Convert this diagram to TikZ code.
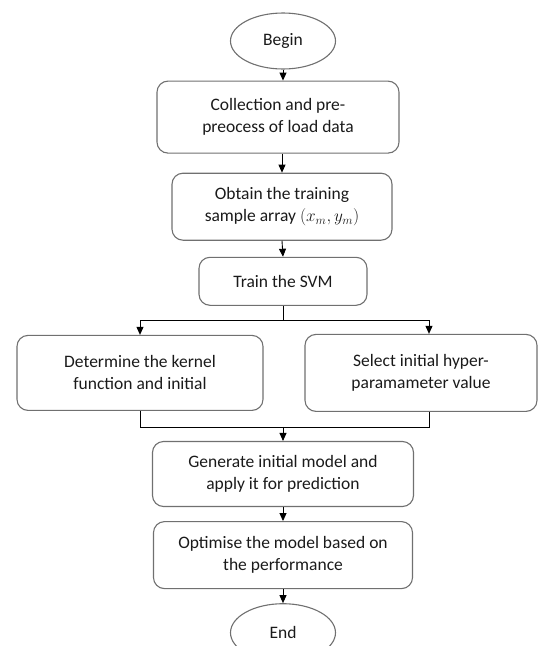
\documentclass[tikz,border=0pt]{standalone}
\usepackage{fontspec}
\setmainfont{Carlito}
\usepackage{tikz}
\usetikzlibrary{arrows.meta,positioning,shapes.geometric,calc}
\definecolor{cEdge}{HTML}{707070}
\definecolor{cText}{HTML}{1A1A1A}
\tikzset{
  stepbox/.style={draw=cEdge, line width=1.1pt, rounded corners=11pt, align=center,
                  font=\fontsize{17.5}{22}\selectfont, text=cText, inner sep=2pt},
  term/.style   ={draw=cEdge, line width=1.1pt, ellipse, inner sep=0pt, align=center,
                  minimum width=105pt, minimum height=56pt,
                  font=\fontsize{17.5}{22}\selectfont, text=cText},
  arrow/.style  ={-{Triangle[length=8pt,width=7pt]}, line width=0.9pt, draw=black},
  link/.style   ={line width=0.9pt, draw=black},
}
\begin{document}
\begin{tikzpicture}[node distance=14pt]
    \useasboundingbox (0,0) rectangle (540pt,-646pt);
    \node[term] (begin) at (283pt,-41pt) {Begin};
    \node[stepbox, below=11pt of begin, xshift=-5pt, minimum width=242pt, minimum height=72pt] (coll)
        {Collection and pre-\\preocess of load data};
    \node[stepbox, below=19pt of coll, xshift=4pt, minimum width=220pt, minimum height=67pt] (obt)
        {Obtain the training\\sample array $(x_m,y_m)$};
    \node[stepbox, below=16pt of obt, xshift=1pt, minimum width=168pt, minimum height=48pt] (train)
        {Train the SVM};
    \node[stepbox, below=29pt of train, xshift=-143pt, minimum width=246pt, minimum height=75pt] (kern)
        {Determine the kernel\\function and initial};
    \node[stepbox, below=28pt of train, xshift=138pt, minimum width=232pt, minimum height=77pt] (sel)
        {Select initial hyper-\\paramameter value};
    \coordinate (selin) at ($(sel.north)+(8pt,0)$);
    \coordinate (mid) at ($(kern.south -| train.south)+(0,-16pt)$);
    \node[stepbox, below=14pt of mid, minimum width=261pt, minimum height=65pt] (gen)
        {Generate initial model and\\apply it for prediction};
    \node[stepbox, below=of gen, minimum width=259pt, minimum height=67pt] (opt)
        {Optimise the model based on\\the performance};
    \node[term, below=of opt, minimum height=58pt] (end) {End};
    % main chain
    \draw[arrow] (begin.south) -- (begin.south |- coll.north);
    \draw[arrow] (obt.north |- coll.south) -- (obt.north);
    \draw[arrow] (obt.south) -- (train.north);
    % fork
    \draw[link] (train.south) -- ++(0,-15pt) coordinate (fork);
    \draw[arrow] (fork) -| (kern.north);
    \draw[arrow] (fork) -| (selin);
    % join
    \draw[link] (kern.south) |- (mid);
    \draw[link] (selin |- sel.south) |- (mid);
    \draw[arrow] (mid) -- (gen.north);
    \draw[arrow] (gen.south) -- (opt.north);
    \draw[arrow] (opt.south) -- (end.north);
\end{tikzpicture}
\end{document}
